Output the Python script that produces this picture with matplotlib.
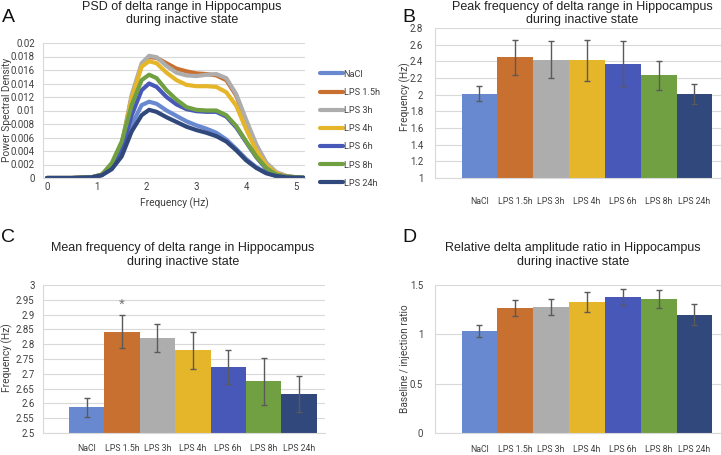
import numpy as np
import matplotlib.pyplot as plt

groups = ['NaCl', 'LPS 1.5h', 'LPS 3h', 'LPS 4h', 'LPS 6h', 'LPS 8h', 'LPS 24h']
colors = ['#6889CF', '#C8702F', '#ADADAD', '#E6B62A', '#4858B8', '#71A042', '#31487C']

# panel A: PSD curves (values x 0.001)
freq = [0, 0.5, 0.9, 1.1, 1.3, 1.5, 1.7, 1.9, 2.05, 2.2, 2.4, 2.6, 2.8, 3.0, 3.2, 3.4,
        3.6, 3.8, 4.0, 4.2, 4.4, 4.6, 4.8, 5.0, 5.15]
psd_nacl = [0, 0, 0.1, 0.45, 1.5, 3.6, 7.9, 10.8, 11.3, 11.0, 10.0, 9.2, 8.4, 7.8, 7.3, 6.7,
            5.7, 4.3, 2.8, 1.6, 0.8, 0.3, 0.1, 0.05, 0.02]
psd_15h = [0, 0, 0.1, 0.5, 1.8, 4.8, 12.0, 16.7, 17.9, 17.8, 17.0, 16.2, 15.8, 15.5, 15.4, 15.2,
           14.5, 12.2, 8.3, 4.8, 2.2, 0.8, 0.3, 0.1, 0.05]
psd_3h = [0, 0, 0.1, 0.5, 1.8, 5.0, 12.3, 17.0, 18.1, 17.9, 16.6, 15.6, 15.2, 15.1, 15.3, 15.4,
          14.8, 12.4, 8.6, 5.0, 2.3, 0.9, 0.3, 0.1, 0.05]
psd_4h = [0, 0, 0.1, 0.5, 1.8, 4.9, 11.8, 16.5, 17.3, 17.0, 15.6, 14.5, 13.8, 13.6, 13.6, 13.5,
          12.7, 10.7, 7.2, 4.1, 1.9, 0.7, 0.25, 0.1, 0.05]
psd_6h = [0, 0, 0.1, 0.45, 1.6, 4.2, 9.3, 13.0, 14.0, 13.5, 12.0, 10.9, 10.2, 9.9, 9.8, 9.8,
          9.1, 7.5, 5.3, 3.1, 1.4, 0.5, 0.2, 0.1, 0.03]
psd_8h = [0, 0, 0.1, 0.5, 2.2, 5.4, 10.8, 14.5, 15.3, 14.8, 13.0, 11.6, 10.5, 10.1, 10.0, 10.0,
          9.3, 7.7, 5.4, 3.2, 1.5, 0.5, 0.2, 0.1, 0.03]
psd_24h = [0, 0, 0.1, 0.4, 1.3, 3.2, 6.9, 9.3, 10.1, 9.8, 9.0, 8.3, 7.6, 7.1, 6.7, 6.2,
           5.4, 4.1, 2.6, 1.5, 0.7, 0.3, 0.1, 0.05, 0.02]
psd_all = [psd_nacl, psd_15h, psd_3h, psd_4h, psd_6h, psd_8h, psd_24h]

# panel B: peak frequency
peak_mean = [2.01, 2.45, 2.42, 2.41, 2.37, 2.23, 2.01]
peak_err = [0.09, 0.21, 0.22, 0.24, 0.27, 0.17, 0.12]

# panel C: mean frequency
mean_mean = [2.587, 2.842, 2.822, 2.779, 2.724, 2.674, 2.631]
mean_err = [0.032, 0.055, 0.047, 0.062, 0.057, 0.079, 0.061]

# panel D: amplitude ratio
ratio_mean = [1.03, 1.27, 1.28, 1.33, 1.38, 1.36, 1.20]
ratio_err = [0.06, 0.08, 0.08, 0.10, 0.08, 0.09, 0.11]

W, H = 721, 455
fig = plt.figure(figsize=(W / 100, H / 100), dpi=100)
plt.rcParams['font.family'] = ['Liberation Sans', 'DejaVu Sans']
tickfont = 'Roboto'
grid_c = '#D9D9D9'
txt_c = '#404040'


def make_ax(l, r, t, b):
    return fig.add_axes([l / W, (H - b) / H, (r - l) / W, (b - t) / H])


def ptext(x, y, s, **kw):
    fig.text(x / W, 1 - y / H, s, **kw)


def style(ax, ypad):
    ax.grid(axis='y', color=grid_c, lw=0.8)
    ax.set_axisbelow(True)
    for s in ['top', 'right']:
        ax.spines[s].set_visible(False)
    for s in ['left', 'bottom']:
        ax.spines[s].set_color(grid_c)
        ax.spines[s].set_linewidth(0.8)
    ax.tick_params(length=0, labelsize=6.3, colors=txt_c)
    ax.tick_params(axis='y', pad=ypad, labelsize=6.9)
    for lab in ax.get_xticklabels() + ax.get_yticklabels():
        lab.set_family(tickfont)


def bar_panel(ax, vals, errs, ylim, yticks, ytl, xpad, ypad):
    x = np.arange(len(groups))
    ax.bar(x, [v - ylim[0] for v in vals], bottom=ylim[0], width=1.0, color=colors)
    ax.errorbar(x, vals, yerr=errs, fmt='none', ecolor='#5A5A5A', elinewidth=1,
                capsize=2, capthick=1)
    ax.set_xlim(-1.24, 6.74)
    ax.set_ylim(*ylim)
    ax.set_yticks(yticks)
    ax.set_yticklabels(ytl)
    ax.set_xticks(x)
    ax.set_xticklabels(groups)
    style(ax, ypad)
    ax.tick_params(axis='x', pad=xpad)


ylab = dict(ha='center', va='center', rotation=90, fontsize=7.3, family=tickfont, color=txt_c)

# ---- A
axA = make_ax(43, 305, 43, 178)
for vals, c, g in zip(psd_all, colors, groups):
    axA.plot(freq, [v / 1000 for v in vals], color=c, lw=3, label=g, solid_capstyle='round')
axA.set_xlim(-0.08, 5.18)
axA.set_ylim(0, 0.02)
yt = np.arange(0, 0.0201, 0.002)
axA.set_yticks(yt)
axA.set_yticklabels(['0'] + ['%g' % round(v, 3) for v in yt[1:]])
axA.set_xticks(range(6))
style(axA, 6)
axA.tick_params(axis='x', pad=3, labelsize=6.9)
axA.set_xlabel('Frequency (Hz)', fontsize=7.3, family=tickfont, color=txt_c, labelpad=4)
ptext(7, 110, 'Power Spectral Density', **ylab)
leg = axA.legend(loc='upper left', bbox_to_anchor=(316 / W, (H - 66) / H),
                 bbox_transform=fig.transFigure, frameon=False, fontsize=6.6,
                 handlelength=2.5, handletextpad=0.1, labelspacing=1.0, borderaxespad=0)
for t in leg.get_texts():
    t.set_family(tickfont)
    t.set_color(txt_c)

# ---- B
axB = make_ax(435, 721, 28, 178)
bt = np.arange(1, 2.81, 0.2)
bar_panel(axB, peak_mean, peak_err, (1, 2.8), bt, ['%g' % round(v, 1) for v in bt], 14, 8.5)
ptext(405, 97, 'Frequency (Hz)', **ylab)

# ---- C
axC = make_ax(43, 325, 285, 433)
ct = np.arange(2.5, 3.001, 0.05)
bar_panel(axC, mean_mean, mean_err, (2.5, 3.0), ct, ['%g' % round(v, 2) for v in ct], 8, 6)
axC.text(1, 2.932, '*', ha='center', va='center', fontsize=11, color='#707070')
ptext(7, 358, 'Frequency (Hz)', **ylab)

# ---- D
axD = make_ax(435, 721, 285, 433)
bar_panel(axD, ratio_mean, ratio_err, (0, 1.5), [0, 0.5, 1, 1.5], ['0', '0.5', '1', '1.5'],
          8.5, 8.5)
ptext(405, 359, 'Baseline / injection ratio', **ylab)

# titles and panel letters
tk = dict(ha='center', va='center', fontsize=9, color='#222222')
titles = [(182, 7, 20, 'PSD of delta range in Hippocampus'),
          (582, 7, 20, 'Peak frequency of delta range in Hippocampus'),
          (183, 248, 262, 'Mean frequency of delta range in Hippocampus'),
          (573, 248, 262, 'Relative delta amplitude ratio in Hippocampus')]
for x, y1, y2, s in titles:
    ptext(x, y1, s, **tk)
    ptext(x, y2, 'during inactive state', **tk)
lk = dict(ha='left', va='center', fontsize=14, color='#111111')
ptext(2, 17, 'A', **lk)
ptext(402, 17, 'B', **lk)
ptext(1, 237, 'C', **lk)
ptext(402, 237, 'D', **lk)

fig.savefig('out.png', dpi=100)
